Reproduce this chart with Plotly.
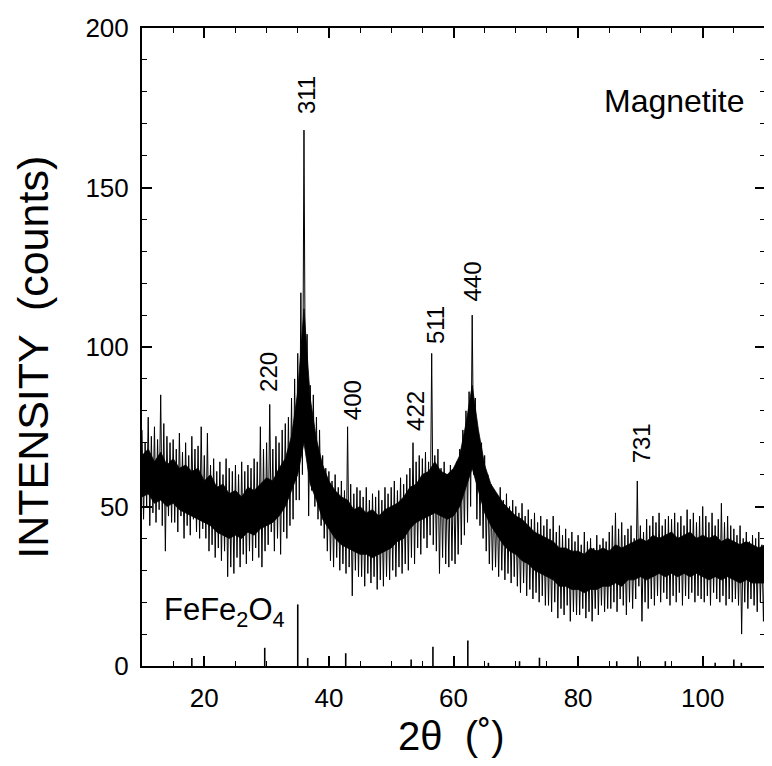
import plotly.graph_objects as go

# 2-theta grid (degrees), step 0.5
two_theta = [10 + 0.5 * i for i in range(201)]

# upper and lower extremes of the noisy pattern in each 0.5 deg bin (counts)
upper = [
    74, 70, 78, 72, 75, 71, 85, 76, 72, 70,   # 10-14.5
    71, 68, 73, 67, 70, 66, 72, 68, 69, 75,   # 15-19.5
    66, 73, 63, 65, 61, 64, 60, 65, 62, 61,   # 20-24.5
    63, 60, 64, 61, 63, 62, 65, 64, 75, 68,   # 25-29.5
    70, 82, 68, 72, 70, 74, 76, 78, 84, 90,   # 30-34.5
    98, 117, 168, 104, 88, 85, 78, 74, 66, 62,  # 35-39.5
    61, 58, 60, 56, 58, 55, 75, 57, 54, 56,   # 40-44.5
    55, 53, 56, 52, 54, 53, 55, 52, 56, 54,   # 45-49.5
    56, 58, 55, 59, 57, 60, 62, 70, 64, 66,   # 50-54.5
    65, 67, 64, 98, 66, 68, 62, 64, 60, 63,   # 55-59.5
    61, 64, 68, 74, 80, 86, 110, 84, 72, 70,  # 60-64.5
    66, 60, 57, 55, 53, 56, 52, 54, 50, 52,   # 65-69.5
    50, 48, 51, 47, 49, 46, 48, 45, 47, 44,   # 70-74.5
    46, 43, 47, 42, 44, 41, 43, 40, 42, 39,   # 75-79.5
    41, 38, 42, 39, 40, 37, 41, 38, 40, 39,   # 80-84.5
    42, 44, 48, 43, 45, 41, 43, 44, 40, 58,   # 85-89.5
    44, 42, 46, 44, 47, 45, 48, 44, 46, 47,   # 90-94.5
    46, 48, 45, 47, 44, 49, 46, 48, 45, 47,   # 95-99.5
    50, 47, 45, 48, 44, 46, 51, 45, 47, 44,   # 100-104.5
    43, 41, 44, 40, 42, 39, 41, 40, 42, 38,   # 105-109.5
    40,                                       # 110
]
lower = [
    46, 50, 44, 48, 45, 49, 44, 36, 47, 45,
    45, 42, 47, 40, 44, 41, 46, 42, 40, 43,
    40, 36, 38, 34, 37, 33, 36, 28, 31, 29,
    34, 31, 35, 32, 36, 33, 37, 34, 31, 36,
    38, 42, 36, 40, 35, 42, 40, 44, 46, 52,
    52, 60, 70, 47, 55, 50, 46, 44, 40, 36,
    33, 31, 34, 30, 32, 29, 31, 22, 30, 28,
    28, 25, 29, 26, 28, 24, 27, 25, 28, 27,
    30, 28, 31, 29, 32, 30, 34, 32, 37, 35,
    40, 37, 41, 38, 36, 29, 34, 32, 31, 33,
    32, 35, 38, 41, 45, 50, 60, 46, 44, 40,
    36, 32, 30, 31, 28, 30, 27, 29, 26, 28,
    25, 23, 26, 22, 24, 21, 23, 20, 22, 19,
    19, 17, 20, 15, 18, 16, 19, 14, 17, 16,
    16, 18, 15, 17, 14, 18, 16, 19, 17, 18,
    18, 20, 17, 21, 19, 16, 20, 18, 21, 25,
    14, 20, 18, 21, 19, 22, 20, 23, 21, 19,
    22, 20, 23, 19, 22, 21, 23, 20, 22, 21,
    20, 22, 19, 23, 21, 20, 22, 19, 21, 20,
    21, 19, 10, 20, 18, 21, 19, 17, 20, 14,
    22,
]

# dense (solid) core of the noise band, per 1 deg from 10 to 110
core_x = [10 + i for i in range(101)]
core_hi = [66, 68, 64, 67, 63, 65, 62, 63, 61, 62,   # 10-19
           58, 60, 56, 57, 54, 55, 53, 56, 55, 57,   # 20-29
           59, 58, 62, 65, 72, 86, 112, 84, 71, 63,  # 30-39
           58, 55, 53, 52, 49, 50, 48, 49, 47, 49,   # 40-49
           50, 51, 53, 56, 57, 60, 61, 64, 61, 60,   # 50-59
           62, 66, 76, 88, 74, 63, 57, 54, 51, 49,   # 60-69
           47, 46, 44, 42, 41, 40, 39, 37, 37, 36,   # 70-79
           36, 35, 37, 36, 37, 36, 38, 37, 38, 39,   # 80-89
           40, 39, 41, 40, 41, 42, 40, 41, 42, 40,   # 90-99
           41, 40, 41, 39, 40, 39, 38, 39, 38, 37,   # 100-109
           38]                                       # 110
core_lo = [53, 54, 51, 52, 50, 51, 49, 48, 47, 46,
           45, 44, 42, 41, 40, 41, 40, 42, 41, 43,
           44, 45, 47, 50, 55, 60, 70, 57, 52, 46,
           43, 40, 38, 37, 36, 35, 35, 34, 35, 36,
           37, 39, 40, 43, 45, 46, 47, 48, 47, 46,
           47, 50, 56, 62, 55, 48, 44, 41, 38, 36,
           35, 33, 32, 30, 29, 28, 27, 25, 25, 24,
           24, 23, 24, 24, 25, 25, 26, 25, 27, 27,
           28, 27, 28, 29, 28, 29, 28, 29, 28, 29,
           28, 27, 28, 27, 28, 27, 26, 27, 26, 26,
           26]

# reference FeFe2O4 stick pattern
stick_pos = [18.0, 29.7, 35.0, 36.6, 42.7, 53.2, 56.7, 62.3, 65.6, 70.6, 73.8, 86.2, 89.6, 94.0, 102.0, 105.0, 106.2]
stick_h = [2.5, 5.7, 19.3, 2.5, 4.0, 2.0, 6.0, 8.0, 1.0, 1.5, 2.6, 1.5, 3.0, 1.5, 1.0, 2.0, 1.0]

# peak labels (hkl) and their positions
peak_labels = ["220", "311", "400", "422", "511", "440", "731"]
label_x = [30.4, 36.5, 43.8, 53.9, 57.2, 63.0, 90.1]
label_y = [92.2, 179.0, 83.2, 79.8, 106.9, 120.6, 69.8]

x_ticks = [20, 40, 60, 80, 100]
y_ticks = [0, 50, 100, 150, 200]

FONT = "Liberation Sans, Arial, Helvetica, sans-serif"

xs, ys = [], []
for i, t in enumerate(two_theta):
    xs.append(t)
    ys.append(upper[i])
    if i < len(two_theta) - 1:
        xs.append(t + 0.25)
        ys.append(lower[i])

sx, sy = [], []
for p, h in zip(stick_pos, stick_h):
    sx += [p, p, None]
    sy += [0, h, None]

fig = go.Figure()
fig.add_trace(go.Scatter(x=core_x + core_x[::-1], y=core_hi + core_lo[::-1], mode="lines",
                         fill="toself", fillcolor="black", line=dict(color="black", width=0.8),
                         showlegend=False, hoverinfo="skip"))
fig.add_trace(go.Scatter(x=xs, y=ys, mode="lines", line=dict(color="black", width=1.0),
                         showlegend=False, hoverinfo="skip"))
fig.add_trace(go.Scatter(x=sx, y=sy, mode="lines", line=dict(color="black", width=1.6),
                         showlegend=False, hoverinfo="skip"))

annotations = []
for lab, lx, ly in zip(peak_labels, label_x, label_y):
    annotations.append(dict(x=lx, y=ly, xref="x", yref="y", text=lab, textangle=-90,
                            showarrow=False, xanchor="center", yanchor="middle",
                            font=dict(family=FONT, size=24, color="black")))
annotations.append(dict(x=95.5, y=177, xref="x", yref="y", text="Magnetite", showarrow=False,
                        xanchor="center", yanchor="middle",
                        font=dict(family=FONT, size=32, color="black")))
annotations.append(dict(x=13.2, y=17, xref="x", yref="y", text="FeFe<sub>2</sub>O<sub>4</sub>",
                        showarrow=False, xanchor="left", yanchor="middle",
                        font=dict(family=FONT, size=31, color="black")))
annotations.append(dict(x=-0.174, y=0.484, xref="paper", yref="paper", text="INTENSITY  (counts)",
                        textangle=-90, showarrow=False, xanchor="center", yanchor="middle",
                        font=dict(family=FONT, size=43, color="black")))
annotations.append(dict(x=0.496, y=-0.11, xref="paper", yref="paper", text="2θ  (˚)",
                        showarrow=False, xanchor="center", yanchor="middle",
                        font=dict(family=FONT, size=40, color="black")))

# the page body has an 8 px margin, so the figure is made 8 px smaller and margins reduced by 8
fig.update_layout(
    width=764, height=758,
    margin=dict(l=134, r=5, t=16, b=100),
    paper_bgcolor="white", plot_bgcolor="white",
    annotations=annotations,
    font=dict(family=FONT, color="black"),
)
fig.update_xaxes(range=[10, 110], tickmode="array", tickvals=x_ticks,
                 ticktext=[str(v) for v in x_ticks],
                 ticks="inside", ticklen=10, tickwidth=1.5, tickcolor="black",
                 minor=dict(dtick=5, tick0=10, ticks="inside", ticklen=5, tickwidth=1.2, tickcolor="black"),
                 showline=True, linecolor="black", linewidth=2, mirror="ticks",
                 showgrid=False, zeroline=False,
                 tickfont=dict(family=FONT, size=26, color="black"), ticklabelstandoff=8)
fig.update_yaxes(range=[0, 200], tickmode="array", tickvals=y_ticks,
                 ticktext=[str(v) for v in y_ticks],
                 ticks="inside", ticklen=10, tickwidth=1.5, tickcolor="black",
                 minor=dict(dtick=10, tick0=0, ticks="inside", ticklen=5, tickwidth=1.2, tickcolor="black"),
                 showline=True, linecolor="black", linewidth=2, mirror="ticks",
                 showgrid=False, zeroline=False,
                 tickfont=dict(family=FONT, size=26, color="black"), ticklabelstandoff=6)

fig.write_html("out.html")
